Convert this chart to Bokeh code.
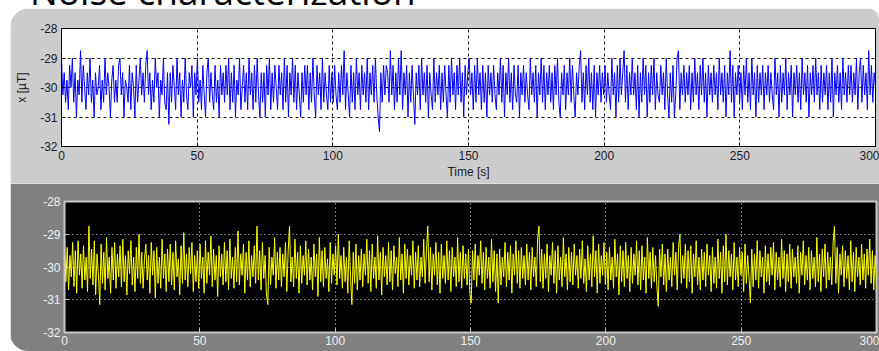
import numpy as np
from bokeh.plotting import figure
from bokeh.layouts import column, row
from bokeh.models import Range1d, FixedTicker, Label, Spacer, Div
from bokeh.embed import file_html
from bokeh.resources import INLINE

# ---------------- data (read / estimated from the picture) ----------------
time_start = 0
time_end = 300
x_ticks = [0, 50, 100, 150, 200, 250, 300]
y_ticks = [-32, -31, -30, -29, -28]
y_tick_labels = ["-32", "-31", "-30", "-29", "-28"]
y_min, y_max = -32, -28

# compass x-axis noise [uT], top panel (quantised readings)
compass_top = [
    -29.0, -30.25, -29.5, -30.5, -29.75, -30.75, -29.25, -30.0, -29.0, -30.5, -29.5, -31.0, -29.75, -30.25, -28.75, -30.5, -29.25, -30.0, -30.75, -29.5,
    -30.25, -29.0, -30.5, -29.75, -31.0, -29.5, -30.25, -30.0, -29.25, -30.75, -29.75, -30.5, -29.0, -30.25, -29.5, -30.0, -31.0, -29.75, -29.25, -30.5,
    -29.75, -30.5, -29.25, -29.0, -30.25, -29.5, -31.0, -29.75, -30.0, -30.5, -29.25, -30.75, -29.5, -30.0, -31.0, -29.25, -30.5, -29.75, -29.0, -30.25,
    -29.5, -30.5, -29.25, -28.75, -30.25, -29.5, -30.75, -29.75, -30.5, -29.0, -30.0, -29.5, -31.0, -29.75, -30.25, -29.0, -30.5, -30.75, -29.5, -31.25,
    -29.5, -30.5, -29.25, -30.0, -30.75, -29.0, -30.25, -29.5, -31.0, -29.75, -30.5, -29.0, -30.25, -30.75, -29.5, -30.0, -29.25, -31.0, -29.5, -30.25,
    -29.0, -30.5, -29.75, -30.75, -29.25, -30.25, -31.0, -29.5, -29.0, -30.5, -29.5, -30.25, -30.75, -29.25, -30.5, -29.75, -31.0, -29.25, -30.25, -29.5,
    -30.5, -29.25, -30.25, -29.0, -30.75, -29.5, -30.5, -29.25, -31.0, -29.75, -30.25, -29.0, -30.75, -30.0, -29.25, -30.5, -29.5, -30.75, -29.0, -30.25,
    -29.5, -30.75, -29.25, -30.5, -29.0, -30.25, -31.0, -29.5, -30.5, -29.5, -31.0, -29.25, -30.25, -29.0, -30.75, -29.5, -30.5, -29.25, -30.0, -30.75,
    -29.25, -30.25, -29.5, -30.75, -29.0, -30.5, -29.25, -31.0, -29.5, -30.25, -29.0, -30.5, -29.25, -30.75, -29.5, -30.25, -31.0, -29.5, -30.5, -29.25,
    -30.25, -29.25, -30.75, -29.5, -30.5, -29.0, -30.25, -31.0, -29.25, -30.25, -29.5, -30.75, -29.0, -30.5, -29.5, -30.25, -30.75, -29.25, -30.5, -29.5,
    -30.5, -29.25, -30.25, -30.75, -29.5, -30.5, -29.25, -30.25, -28.75, -30.75, -29.5, -30.25, -31.0, -29.25, -30.5, -29.5, -30.75, -29.0, -30.25, -29.5,
    -30.75, -29.25, -30.25, -29.5, -30.5, -29.0, -30.75, -29.5, -30.25, -29.25, -30.5, -29.0, -30.25, -31.0, -31.5, -29.5, -30.5, -29.25, -30.25, -29.25,
    -29.5, -30.5, -28.75, -30.25, -29.25, -30.75, -29.5, -30.5, -29.0, -30.25, -28.75, -30.75, -29.5, -30.25, -29.25, -31.0, -29.5, -30.5, -29.25, -30.25,
    -31.25, -29.5, -30.25, -29.25, -30.75, -29.0, -30.25, -29.5, -30.5, -29.25, -31.0, -29.5, -30.25, -30.75, -29.0, -30.5, -29.5, -30.25, -29.25, -30.75,
    -29.5, -30.5, -29.25, -30.25, -31.0, -29.25, -30.5, -29.0, -30.25, -29.5, -30.75, -29.25, -30.25, -29.0, -30.5, -29.5, -31.0, -29.25, -30.25, -29.5,
    -29.0, -30.25, -29.5, -30.75, -29.25, -30.5, -29.0, -30.25, -29.5, -30.75, -29.25, -30.5, -29.5, -31.0, -29.25, -30.25, -29.5, -30.5, -29.25, -30.25,
    -30.75, -29.5, -30.25, -29.0, -30.5, -29.25, -31.0, -29.5, -30.25, -29.0, -30.5, -29.5, -30.75, -29.25, -30.25, -30.5, -29.25, -31.0, -29.5, -30.25,
    -29.25, -30.5, -29.5, -30.25, -30.75, -29.0, -30.25, -29.5, -30.5, -29.25, -31.0, -29.5, -30.25, -29.0, -30.5, -29.25, -30.75, -29.5, -30.25, -29.25,
    -30.5, -29.5, -30.75, -29.25, -30.25, -29.0, -30.5, -31.0, -29.5, -30.25, -29.25, -30.75, -29.5, -30.25, -29.0, -30.5, -29.25, -30.25, -31.0, -29.5,
    -30.25, -29.25, -28.75, -30.5, -29.5, -30.75, -29.25, -30.25, -29.0, -30.5, -29.5, -30.75, -29.25, -31.0, -29.5, -30.25, -29.25, -30.5, -29.5, -30.25,
    -29.25, -30.5, -29.5, -30.25, -30.75, -29.0, -30.25, -29.5, -31.0, -29.25, -30.5, -29.0, -30.25, -29.5, -28.75, -30.5, -29.25, -30.75, -29.5, -30.25,
    -29.0, -30.25, -29.5, -30.75, -29.25, -31.0, -29.5, -30.5, -29.0, -30.25, -29.25, -31.0, -29.5, -30.5, -29.25, -30.25, -29.0, -30.75, -29.5, -30.25,
    -30.5, -29.25, -30.25, -29.5, -30.75, -29.0, -30.25, -31.0, -29.5, -30.5, -29.25, -31.0, -30.25, -29.0, -28.75, -30.75, -29.5, -30.25, -29.25, -30.5,
    -29.5, -30.25, -29.25, -30.75, -29.5, -30.5, -29.0, -30.25, -29.5, -30.75, -29.25, -30.25, -29.0, -30.5, -29.5, -31.0, -29.25, -30.25, -29.5, -30.5,
    -29.25, -30.25, -29.5, -30.75, -29.0, -30.25, -29.5, -30.5, -29.25, -31.0, -29.5, -30.25, -28.75, -30.5, -29.25, -31.0, -29.5, -30.25, -29.25, -30.5,
    -29.5, -30.75, -29.25, -30.25, -29.0, -30.5, -29.5, -30.75, -29.0, -30.25, -29.5, -31.0, -29.25, -30.5, -29.5, -30.25, -29.25, -30.75, -29.5, -30.25,
    -29.25, -30.5, -29.5, -30.25, -30.75, -29.0, -30.25, -29.5, -31.0, -29.25, -30.5, -29.5, -30.25, -29.0, -30.75, -29.5, -30.25, -29.25, -31.0, -29.5,
    -30.25, -29.25, -30.5, -29.5, -30.75, -29.0, -30.25, -29.5, -30.5, -29.25, -31.0, -29.5, -30.25, -29.25, -30.5, -29.0, -30.25, -29.5, -30.75, -29.25,
    -30.5, -29.5, -30.25, -29.25, -30.75, -29.5, -30.5, -29.0, -31.0, -29.5, -30.25, -29.25, -30.5, -29.5, -30.75, -29.0, -30.25, -29.5, -30.5, -29.25,
    -30.25, -29.25, -30.5, -29.5, -30.25, -29.0, -30.75, -29.5, -29.0, -30.5, -29.25, -30.25, -29.5, -30.75, -28.75, -30.25, -29.25, -30.5, -29.5, -30.0,
]

# compass x-axis noise [uT], bottom panel (continuous trace)
compass_bottom = [
    -29.0, -30.45, -29.4, -30.7, -29.65, -30.3, -29.25, -30.6, -29.5, -30.8, -29.2, -30.25, -29.6, -30.65, -29.35, -30.4, -29.7, -30.75, -28.75, -30.35,
    -29.45, -30.55, -29.2, -30.85, -29.6, -30.2, -31.15, -29.3, -30.5, -29.55, -30.7, -29.1, -30.35, -29.7, -30.8, -29.4, -30.4, -29.25, -30.65, -29.6,
    -30.3, -29.35, -30.6, -29.15, -30.45, -29.65, -30.85, -29.5, -30.2, -29.2, -30.55, -29.7, -30.75, -29.4, -30.35, -29.0, -30.5, -29.55, -30.65, -29.75,
    -29.3, -30.4, -29.65, -30.8, -29.25, -30.25, -29.5, -30.95, -29.4, -30.5, -29.7, -30.65, -29.15, -30.35, -29.6, -30.75, -29.45, -30.45, -29.3, -30.55,
    -29.55, -30.7, -29.2, -30.3, -29.75, -30.85, -29.35, -30.5, -28.95, -30.4, -29.6, -30.6, -29.4, -30.2, -29.25, -30.75, -29.65, -30.45, -29.5, -30.65,
    -29.3, -30.35, -29.7, -30.8, -29.2, -30.5, -29.55, -30.25, -29.05, -30.6, -29.45, -30.4, -29.65, -30.9, -29.35, -30.3, -29.6, -30.55, -29.25, -30.45,
    -29.5, -30.7, -29.15, -30.35, -29.7, -30.65, -29.4, -30.45, -28.9, -30.55, -29.6, -30.25, -29.3, -30.8, -29.55, -30.4, -29.2, -30.6, -29.65, -30.3,
    -29.35, -30.5, -28.75, -30.4, -29.5, -30.7, -29.25, -30.35, -29.65, -30.85, -31.15, -29.4, -30.55, -29.7, -30.25, -29.1, -30.65, -29.55, -30.4, -29.4,
    -30.6, -29.6, -30.3, -29.25, -30.75, -29.5, -28.75, -30.45, -29.7, -30.6, -29.15, -30.35, -29.55, -30.8, -29.35, -30.5, -29.65, -30.25, -29.2, -30.55,
    -29.45, -30.4, -29.7, -30.7, -29.3, -30.3, -29.6, -30.9, -29.1, -30.45, -29.5, -30.6, -29.4, -30.35, -29.75, -30.75, -29.25, -30.5, -29.6, -30.25,
    -29.35, -30.55, -29.0, -30.35, -29.65, -30.65, -29.4, -30.45, -29.7, -30.8, -29.2, -30.3, -31.15, -29.55, -30.5, -29.3, -30.7, -29.65, -30.4, -29.45,
    -30.6, -29.6, -30.25, -29.15, -30.5, -29.5, -30.75, -29.3, -30.35, -29.7, -30.65, -29.05, -30.4, -29.55, -30.85, -29.4, -30.3, -29.65, -30.55, -29.25,
    -30.45, -29.5, -30.7, -29.35, -30.2, -29.7, -30.6, -29.1, -30.4, -29.6, -30.8, -29.3, -30.35, -29.45, -30.55, -29.65, -30.25, -29.2, -30.65, -29.55,
    -30.4, -29.35, -30.6, -29.7, -30.3, -29.15, -30.5, -29.5, -28.75, -30.45, -29.4, -30.7, -29.6, -30.25, -29.25, -30.55, -29.55, -30.8, -29.3, -30.35,
    -29.65, -30.5, -29.2, -30.4, -29.5, -30.75, -29.4, -30.3, -29.7, -30.6, -29.1, -30.45, -29.55, -30.65, -29.35, -30.35, -29.6, -30.55, -29.45, -30.8,
    -31.1, -29.5, -30.4, -29.3, -30.6, -29.65, -30.25, -29.2, -30.5, -29.55, -30.7, -29.4, -30.35, -29.7, -30.65, -29.15, -30.45, -29.5, -30.75, -29.6,
    -31.1, -29.45, -30.55, -29.7, -30.3, -29.25, -30.6, -29.55, -30.4, -29.35, -30.8, -29.6, -30.25, -29.2, -30.5, -29.5, -30.65, -29.4, -30.35, -29.65,
    -30.55, -29.3, -30.4, -29.55, -30.7, -29.4, -30.3, -29.7, -30.6, -29.15, -28.75, -30.45, -29.45, -30.65, -29.6, -30.35, -29.3, -30.75, -29.65, -30.25,
    -29.25, -30.5, -29.5, -30.8, -29.35, -30.4, -29.7, -30.6, -29.1, -30.3, -29.6, -30.7, -29.4, -30.45, -29.55, -30.55, -29.3, -30.25, -29.65, -30.65,
    -29.45, -30.35, -29.2, -30.5, -29.75, -30.75, -29.35, -30.4, -29.6, -30.6, -29.05, -30.3, -29.5, -30.8, -29.3, -30.5, -29.65, -30.25, -29.25, -30.55,
    -29.55, -30.7, -29.4, -30.4, -29.7, -30.65, -29.15, -30.3, -29.6, -30.85, -29.35, -30.45, -29.5, -30.6, -29.25, -30.35, -29.65, -30.75, -29.4, -30.5,
    -29.6, -30.25, -29.2, -30.55, -29.5, -30.7, -29.35, -30.4, -29.7, -30.8, -29.1, -30.35, -29.55, -30.65, -29.4, -30.45, -29.65, -30.6, -31.2, -29.45,
    -30.3, -29.3, -30.55, -29.6, -30.75, -29.45, -30.4, -29.7, -30.6, -29.25, -30.25, -29.55, -30.7, -29.4, -29.0, -30.5, -29.65, -30.35, -29.3, -30.65,
    -29.5, -30.45, -29.35, -30.8, -29.6, -30.3, -29.2, -30.55, -29.7, -30.7, -29.45, -30.4, -29.55, -30.6, -29.3, -30.25, -29.65, -30.75, -29.4, -30.5,
    -29.7, -30.65, -29.15, -30.35, -29.55, -30.8, -29.35, -30.45, -29.0, -30.55, -29.5, -30.3, -29.6, -30.7, -29.25, -30.4, -29.7, -30.6, -29.4, -30.25,
    -29.55, -30.75, -29.3, -30.5, -29.65, -30.35, -31.1, -29.45, -30.6, -29.6, -30.4, -29.2, -30.65, -29.5, -30.3, -29.7, -30.8, -29.35, -30.45, -29.6,
    -30.55, -29.4, -30.25, -29.25, -30.7, -29.55, -30.4, -29.7, -30.6, -29.15, -30.35, -29.5, -30.75, -29.6, -30.45, -29.3, -30.65, -29.45, -30.3, -29.7,
    -30.5, -29.35, -30.8, -29.55, -30.25, -29.2, -30.55, -29.65, -30.4, -29.4, -30.7, -29.5, -30.35, -29.7, -30.6, -29.1, -30.45, -29.6, -30.75, -29.45,
    -30.3, -29.3, -30.65, -29.55, -30.4, -29.7, -30.55, -29.25, -28.75, -30.5, -29.4, -30.8, -29.6, -30.25, -29.35, -30.6, -29.5, -30.35, -29.65, -30.7,
    -29.2, -30.45, -29.55, -30.75, -29.4, -30.3, -29.7, -30.55, -29.3, -30.4, -29.6, -30.65, -29.45, -30.25, -29.15, -30.5, -29.5, -30.7, -29.65, -30.35,
]

page_title = "Noise characterization"
top_title = "Compass noise"
x_label = "Time [s]"
y_label = "x [\u00b5T]"

t_top = np.linspace(time_start, time_end, len(compass_top))
t_bottom = np.linspace(time_start, time_end, len(compass_bottom))
y_overrides = {float(v): s for v, s in zip(y_ticks, y_tick_labels)}

FONT = "Liberation Sans"

# ---------------- slide title strip (only the lower edge of the glyphs is visible) ----------------
title_div = Div(
    text=('<div style="position:relative; top:-28px; left:30px; white-space:nowrap; '
          'font-family:\'Open Sans\'; font-size:37px; line-height:37px; color:black;">'
          + page_title + '</div>'),
    width=879, height=8,
    styles={"overflow": "hidden", "margin": "0", "padding": "0"},
)

# ---------------- top panel (white axes on light grey) ----------------
p1 = figure(width=869, height=175, output_backend="svg", toolbar_location=None,
            x_range=Range1d(time_start, time_end), y_range=Range1d(y_min, y_max),
            min_border_left=51, min_border_right=4, min_border_top=20, min_border_bottom=37,
            background_fill_color="white", border_fill_color="#cccccc",
            outline_line_color="black", outline_line_width=1)
p1.styles = {"border-radius": "20px 12px 0 0", "overflow": "hidden"}
p1.line(t_top, compass_top, line_color="#0000ff", line_width=1)

for ax in (p1.xaxis[0], p1.yaxis[0]):
    ax.major_tick_in = 4
    ax.major_tick_out = 0
    ax.minor_tick_line_color = None
    ax.axis_line_color = "black"
    ax.major_tick_line_color = "black"
    ax.major_label_text_font = FONT
    ax.major_label_text_font_size = "12px"
    ax.major_label_text_color = "#1a1a2a"
    ax.axis_label_text_font = FONT
    ax.axis_label_text_font_size = "12px"
    ax.axis_label_text_font_style = "normal"
    ax.axis_label_text_color = "#1a1a2a"
p1.xaxis.ticker = FixedTicker(ticks=x_ticks)
p1.yaxis.ticker = FixedTicker(ticks=y_ticks)
p1.yaxis.major_label_overrides = y_overrides
p1.xaxis.major_label_standoff = 4
p1.xaxis.axis_label = x_label
p1.xaxis.axis_label_standoff = 2
p1.yaxis.major_label_standoff = 4
p1.yaxis.axis_label = y_label
p1.yaxis.axis_label_standoff = 8
for g in (p1.xgrid[0], p1.ygrid[0]):
    g.grid_line_color = "black"
    g.grid_line_dash = "3 3"
    g.grid_line_width = 1
    g.grid_line_alpha = 0.9

p1.add_layout(Label(x=150, y=y_max, text=top_title, text_align="center",
                    text_baseline="alphabetic", y_offset=10,
                    text_font=FONT, text_font_size="13px", text_color="#1a1a2a"))

# ---------------- bottom panel (black axes on dark grey) ----------------
p2 = figure(width=869, height=168, output_backend="svg", toolbar_location=None,
            x_range=Range1d(time_start, time_end), y_range=Range1d(y_min, y_max),
            min_border_left=54, min_border_right=3, min_border_top=18, min_border_bottom=19,
            background_fill_color="black", border_fill_color="#808080",
            outline_line_color="#c8c8c8", outline_line_width=2)
p2.styles = {"border-radius": "0 0 0 18px", "overflow": "hidden"}
p2.line(t_bottom, compass_bottom, line_color="#ffff00", line_width=1)

for ax in (p2.xaxis[0], p2.yaxis[0]):
    ax.major_tick_in = 4
    ax.major_tick_out = 0
    ax.minor_tick_line_color = None
    ax.axis_line_color = "#c8c8c8"
    ax.major_tick_line_color = "#c8c8c8"
    ax.major_label_text_font = FONT
    ax.major_label_text_font_size = "12px"
    ax.major_label_text_color = "#f0f0f0"
p2.xaxis.ticker = FixedTicker(ticks=x_ticks)
p2.yaxis.ticker = FixedTicker(ticks=y_ticks)
p2.yaxis.major_label_overrides = y_overrides
p2.xaxis.major_label_standoff = 3
p2.yaxis.major_label_standoff = 4
for g in (p2.xgrid[0], p2.ygrid[0]):
    g.grid_line_color = "#e0e0e0"
    g.grid_line_dash = "1 3"
    g.grid_line_width = 1

layout = column(
    title_div,
    row(Spacer(width=10, height=175), p1, spacing=0),
    row(Spacer(width=10, height=168), p2, spacing=0),
    spacing=0,
)
open("out.html", "w").write(file_html(layout, INLINE))
